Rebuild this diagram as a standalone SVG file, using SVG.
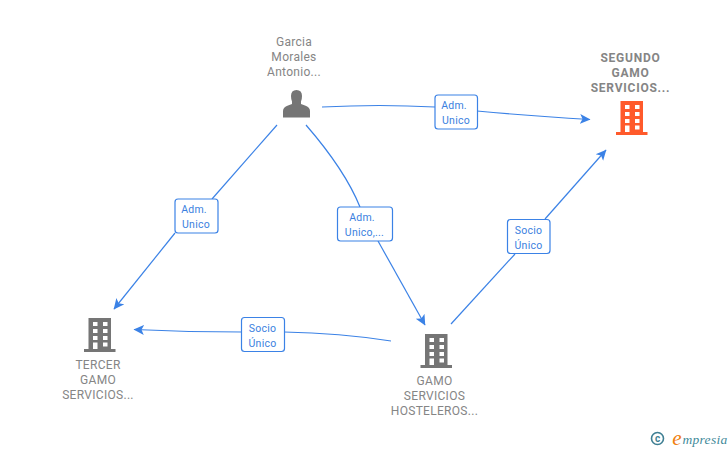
<svg xmlns="http://www.w3.org/2000/svg" width="728" height="450" viewBox="0 0 728 450">
<style>
text{font-family:Roboto,"Liberation Sans",Arial,sans-serif;text-anchor:middle}
.n{font-size:12px;fill:#858585;letter-spacing:.3px}
.b{font-weight:bold;letter-spacing:.75px}
.l{font-size:10.500px;fill:#3b7fe0;letter-spacing:.25px}
.c{fill:none;stroke:#3b82e6;stroke-width:1.2}
.lb{fill:#fff;stroke:#3b82e6;stroke-width:1.2}
.g{fill:#757575}
.o{fill:#ff5a2b}
.w{fill:#fff}
</style>
<defs>
<marker id="a" markerWidth="12" markerHeight="12" refX="10" refY="6" orient="auto" markerUnits="userSpaceOnUse"><path d="M0 1L10.500 6L0 11L2.500 6Z" fill="#3b82e6"/></marker>
<g id="bld">
<path d="M-11.500-17H11V14H15.500V17H-16V14H-11.500Z"/>
<g class="w"><rect x="-7" y="-13" width="4.500" height="4"/><rect x="3" y="-13" width="4.500" height="4"/><rect x="-7" y="-6" width="4.500" height="4"/><rect x="3" y="-6" width="4.500" height="4"/><rect x="-7" y="1" width="4.500" height="4"/><rect x="3" y="1" width="4.500" height="4"/><rect x="-7" y="7.500" width="4.500" height="6.500"/><rect x="3" y="7.500" width="4.500" height="4"/></g>
</g>
</defs>
<g id="connectors">
<path class="c" d="M322 107Q380 104 435 107"/>
<path class="c" d="M477 111Q530 116 590 119.500" marker-end="url(#a)"/>
<path class="c" d="M277 125L212 199"/>
<path class="c" d="M175 233L114 309" marker-end="url(#a)"/>
<path class="c" d="M306 125Q345 170 360 207"/>
<path class="c" d="M378 241L425 325" marker-end="url(#a)"/>
<path class="c" d="M451 324L515 254"/>
<path class="c" d="M545 219L606 150" marker-end="url(#a)"/>
<path class="c" d="M391 341Q340 333 284 332"/>
<path class="c" d="M242 332Q190 332 134 329.500" marker-end="url(#a)"/>
<rect class="lb" x="435" y="95" width="42.500" height="34" rx="3"/>
<text class="l" x="454" y="108.500">Adm.</text><text class="l" x="456" y="123.500">Unico</text>
<rect class="lb" x="175" y="199" width="43" height="34" rx="3"/>
<text class="l" x="194" y="212.500">Adm.</text><text class="l" x="196" y="227.500">Unico</text>
<rect class="lb" x="337.500" y="207" width="55" height="34" rx="3"/>
<text class="l" x="362" y="220.500">Adm.</text><text class="l" x="364.500" y="235.500">Unico,...</text>
<rect class="lb" x="507.500" y="219.500" width="42.500" height="34" rx="3"/>
<text class="l" x="528.500" y="233.500">Socio</text><text class="l" x="528.500" y="248.500">Único</text>
<rect class="lb" x="241.500" y="317.500" width="43" height="34" rx="3"/>
<text class="l" x="262.500" y="331.500">Socio</text><text class="l" x="262.500" y="346.500">Único</text>
</g>
<g id="n-garcia">
<text class="n" x="294" y="45.500">Garcia</text><text class="n" x="294" y="60.500">Morales</text><text class="n" x="294" y="75.500">Antonio...</text>
<path class="g" d="M283 117.500V111Q283 107 288 105.500L292 104V101.500Q291 99 291 96Q291 90 296.500 90Q302 90 302 96Q302 99 301 101.500V104L305 105.500Q310 107 310 111V117.500Z"/>
</g>
<g id="n-segundo">
<text class="n b" x="630.500" y="61.500">SEGUNDO</text><text class="n b" x="630.500" y="76.500">GAMO</text><text class="n b" x="630.500" y="91.500">SERVICIOS...</text>
<use href="#bld" class="o" x="632" y="118"/>
</g>
<g id="n-tercer">
<text class="n" x="98" y="368.500">TERCER</text><text class="n" x="98" y="383.500">GAMO</text><text class="n" x="98" y="398.500">SERVICIOS...</text>
<use href="#bld" class="g" x="100" y="335"/>
</g>
<g id="n-gamo">
<text class="n" x="434.500" y="384.500">GAMO</text><text class="n" x="434.500" y="399.500">SERVICIOS</text><text class="n" x="434.500" y="414.500">HOSTELEROS...</text>
<use href="#bld" class="g" x="436.500" y="351"/>
</g>
<g id="logo">
<circle cx="657.500" cy="438.500" r="6" fill="none" stroke="#3f7f93" stroke-width="1.600"/>
<text x="657.500" y="442" font-size="10" style="fill:#3f7f93" font-weight="bold">c</text>
<text x="677" y="444.500" font-size="21" style="fill:#f08010;font-family:'Liberation Serif',serif;font-style:italic">e</text>
<text x="705" y="444" font-size="13.500" style="fill:#3f8a9a;font-family:'Liberation Serif',serif;font-style:italic;letter-spacing:.3px">mpresia</text>
</g>
</svg>
